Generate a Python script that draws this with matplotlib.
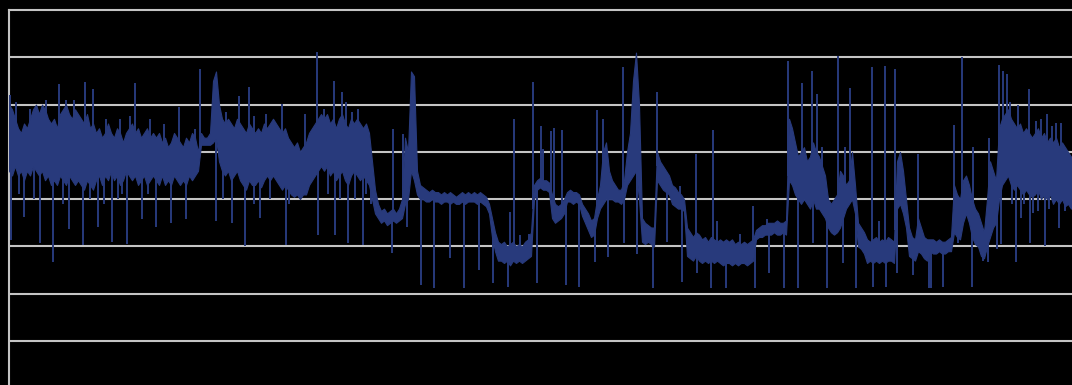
import numpy as np
import matplotlib
matplotlib.use("Agg")
import matplotlib.pyplot as plt

# Dense part of the trace: upper and lower edge of the band, one pair every 3 time steps
band_hi = [
    50, 49, 47, 45, 44, 46, 45, 47, 49, 50, 48, 50, 49, 47, 46, 47, 45, 48, 49, 50,
    48, 47, 49, 48, 47, 46, 48, 45, 46, 44, 45, 43, 44, 46, 44, 43, 45, 44, 42, 44,
    45, 46, 44, 45, 43, 44, 45, 43, 44,
    43, 44, 42, 43, 41, 42, 44, 43, 42, 41, 43, 42, 44, 43,
    40, 44, 43, 43, 44, 55, 57,
    50, 47, 46, 47, 46, 45, 47, 46, 45, 44, 46, 45, 44, 45, 44, 46, 45, 46, 47, 46,
    45, 44, 45, 43,
    42, 41, 42, 40, 41, 42, 44,
    45, 46, 47, 48, 47, 48, 46, 47, 45, 47, 48, 46, 45, 47, 46, 47, 46, 45, 46, 44, 38,
    32, 29,
    27.5, 28, 27, 27.5, 28, 27, 28,
    30, 43, 40, 57, 56, 36,
    33, 32.5, 32, 31.5, 32, 31.5, 31.5, 31, 31.5, 31, 31.5, 31, 30.5, 31, 31.5, 31,
    31.5, 31, 31.5, 31, 31.5, 31, 30.5, 29,
    26, 23, 21,
    20.5, 21, 20, 20.5, 21, 20, 20.5, 20, 21, 21.5, 23,
    33, 34, 34.5, 34, 34, 33.5,
    31, 29, 28.5, 29, 30,
    31.5, 32, 31.5, 31.5, 31,
    29, 28, 27, 25.5, 26,
    30, 33, 40, 42, 36,
    34, 33, 32,
    32, 34, 40, 44, 55, 61, 50,
    26, 25, 24.5, 24, 24,
    40, 38, 37, 36, 35,
    33, 32.5, 31.5, 31, 30,
    24, 23, 22, 23, 22.5, 21.5, 22, 21, 22, 21.5, 21, 21.5, 21, 21.5, 21, 21.5,
    20.5, 21, 20.5, 21, 20.5, 21, 21.5,
    23.5, 24, 24.5, 24.5, 25, 25, 25, 25.5, 25, 25, 25.5,
    47, 45, 42, 39,
    40, 41, 38, 39, 42,
    40, 39, 37, 35,
    30, 29, 30, 31,
    36, 35, 33, 34,
    40, 33,
    25, 24, 23,
    21.5, 21, 21.5, 22, 21, 21.5, 21, 22, 21.5, 21,
    38, 40, 36, 30,
    24, 22, 21.5, 26, 24, 22, 21.5,
    21.5, 21.5, 21, 21.5, 21, 21, 21.5, 22,
    33, 31, 30, 34, 35, 33,
    30, 28, 27, 25, 23,
    30, 38, 36, 34, 45,
    47, 48, 49, 47, 46, 45, 46, 44, 45, 44, 43, 44, 45, 43, 44, 42, 43, 42, 43, 41,
    42, 41, 40, 39,
]
band_lo = [
    36, 35, 37, 35, 36, 34, 36, 35, 37, 36, 35, 36, 34, 35, 33, 34, 33, 35, 34, 33,
    35, 34, 33, 34, 33, 32, 34, 33, 32, 34, 35, 33, 35, 34, 36, 34, 35, 33, 34, 36,
    35, 34, 35, 33, 34, 35, 33, 34, 35,
    34, 33, 35, 33, 34, 33, 35, 34, 33, 34, 33, 35, 34, 35,
    36, 41.5, 41.5, 41.5, 41.5, 42, 43,
    38, 36, 35, 36, 34, 35, 36, 34, 33, 32, 34, 33, 33, 34, 32.5, 34, 35, 34, 35, 34,
    33, 32, 33, 32,
    31, 30.5, 31, 30, 31, 31, 33,
    34, 35, 36, 37, 36, 37, 35, 36, 34, 35, 36, 34, 33, 35, 36, 35, 34, 35, 34, 33, 30,
    27, 26,
    25, 25.5, 24.5, 25, 25.5, 25, 25.5,
    26, 29, 30, 36, 34, 31,
    30, 30, 29.5, 29.5, 30, 29.5, 29.5, 29, 29.5, 29.5, 29, 29.5, 29, 29, 29.5, 29,
    29.5, 29.5, 29.5, 29, 29.5, 29, 28.5, 27,
    22, 19, 17,
    17, 16.5, 17, 16, 17, 16.5, 17, 16.5, 17, 17.5, 18,
    30, 32, 32.5, 32, 32, 31.5,
    26, 25, 25.5, 26, 27,
    29.5, 29.5, 29, 29.5, 29,
    26.5, 25, 23.5, 22, 22.5,
    26, 28, 29, 30, 30,
    30, 29.5, 29.5,
    29, 30, 33, 34, 35, 36, 30,
    21, 20.5, 21, 20.5, 20,
    34, 33, 32, 31.5, 31,
    29, 28.5, 28, 28, 27.5,
    18, 17.5, 17, 18, 17, 16.5, 17, 16.5, 17, 16.5, 17, 16.5, 16, 16.5, 16.5, 16,
    16.5, 16, 16.5, 16.5, 16, 16.5, 17,
    21.5, 22, 22, 22.5, 22.5, 22.5, 23, 22.5, 22.5, 23, 22.5,
    34, 33, 31, 30,
    29, 30, 29, 28, 30,
    28, 28, 27, 26,
    24, 23, 22.5, 23,
    24, 26, 28, 29,
    30, 27,
    20, 19.5, 18.5,
    16.5, 17, 16.5, 17, 16.5, 17, 16.5, 17, 17, 16.5,
    28, 29, 27, 24,
    18, 17.5, 17, 19, 18.5, 17.5, 17,
    19, 18.5, 18.5, 19, 18.5, 18.5, 19, 19,
    23, 22, 21.5, 25, 27, 25,
    22, 20.5, 20, 18, 17.5,
    20, 22, 24, 25, 30,
    33, 34, 35, 33, 32, 33, 32, 31, 32, 31, 30.5, 31, 32, 30, 31, 30, 31, 29, 30, 29,
    30, 28.5, 29, 28,
]

# Single-sample excursions: time step and reading
spike_t = [
    1, 2, 15, 31, 44, 50, 60, 74, 76, 84, 89, 103, 118, 126, 133,
    7, 10, 21, 25, 37, 54, 57, 65, 81, 95, 97, 109, 111, 113, 121, 139, 141,
    147, 155, 162, 170, 177, 186, 191, 207,
    214, 217, 223, 230, 236, 240, 245, 251, 245, 257, 261, 273, 277, 280, 296,
    308, 309, 325, 326, 333, 337, 339, 354, 362, 315, 343, 349, 319, 331, 346, 357,
    383, 384, 394, 398,
    412, 425, 441, 455, 470, 484,
    499, 501, 505, 511, 520, 524, 528,
    532, 534, 542, 545, 553, 557, 570,
    586, 588, 594, 599,
    614, 615, 628, 644, 648, 658, 671, 673, 687, 688,
    702, 704, 708, 717, 731, 744, 746, 758, 760, 775,
    779, 789, 793, 803, 804, 808, 813, 818, 829, 834, 836, 841, 847,
    863, 864, 870, 876, 877, 886, 888, 904, 909, 920, 922, 934,
    945, 949, 953, 963, 964, 974, 979, 980, 988, 990, 992, 994, 998, 1001, 1007,
    1009, 1015, 1020, 1021, 1036, 1038, 1050, 1052,
    1027, 1032, 1043, 1047, 1024, 1056, 1012, 1003, 1029, 1040,
]
spike_v = [
    52, 21.4, 26.3, 20.8, 16.8, 54.4, 23.6, 20.4, 54.8, 53.3, 24.2, 21, 20.6, 54.6, 25.7,
    50.5, 31, 49, 30, 51, 29, 51, 51, 30, 29, 47, 30, 47, 31, 47.5, 31, 47,
    24.2, 45.9, 25, 49.5, 25.7, 44.8, 57.5, 25.3,
    30, 48.5, 25, 51.8, 20, 53.7, 29, 26, 47.5, 48, 30, 50.1, 20.4, 28.9, 48,
    61.1, 22.5, 55, 22.5, 52.6, 50.5, 20.8, 20.4, 28.9, 49, 48.5, 49, 31, 30, 30, 31,
    18.7, 44.8, 43.7, 24.2,
    11.9, 11.3, 17.6, 11.3, 15, 12.3,
    11.5, 27.2, 47, 22.5, 22.6, 54.8, 12.3,
    45.4, 40.6, 44.4, 45, 44.6, 11.9, 11.5,
    16.8, 48.8, 47, 17.8,
    58, 20.8, 18.3, 11.3, 52.7, 21, 32.7, 12.5, 39.5, 14.4,
    11.3, 44.6, 25.3, 11.3, 22.6, 28.5, 11.3, 25.7, 14.4, 11.3,
    59.2, 11.3, 54.6, 57, 20.8, 52.2, 41, 11.3, 60.3, 16.6, 41, 53.5, 11.3,
    58, 11.5, 25.3, 58.2, 11.5, 57.5, 14.4, 14, 39.5, 11.3, 11.3, 11.5,
    45.6, 20.8, 60, 11.5, 41, 17, 16.8, 43, 19.5, 58.4, 20.5, 57, 56.5, 50.5, 16.8,
    50, 28.9, 53.3, 20.8, 20, 48, 24, 46,
    46.5, 47, 45.5, 46, 27, 27.5, 26, 29, 27.5, 28,
]
grid_levels = [0, 10, 20, 30, 40, 50, 60]

W, H = 1072, 385
TRACE = "#283a7c"
GRID = "#c4c4c4"

fig = plt.figure(figsize=(W / 100, H / 100), dpi=100, facecolor="black")
ax = fig.add_axes([9 / W, 0, 1 - 9 / W, 1 - 10 / H], facecolor="black")

hi = np.asarray(band_hi, dtype=float)
lo = np.asarray(band_lo, dtype=float)
t_band = np.arange(len(hi)) * 3

# body of the trace
ax.fill_between(t_band, lo, hi, color=TRACE, lw=0.8, edgecolor=TRACE, zorder=3)

# excursions start from the middle of the band at that moment
st = np.asarray(spike_t, dtype=float)
sv = np.asarray(spike_v, dtype=float)
base = np.interp(st, t_band, (hi + lo) / 2)
ax.vlines(st, base, sv, color=TRACE, lw=1.4, zorder=3)

ax.set_xlim(0, 1063)
ax.set_ylim(-9.3, 70)
ax.set_yticks(grid_levels)
ax.set_xticks([])
ax.grid(axis="y", color=GRID, lw=1.5, zorder=1)
ax.tick_params(left=False, labelleft=False, bottom=False, labelbottom=False)

for side in ("right", "bottom"):
    ax.spines[side].set_visible(False)
for side in ("left", "top"):
    ax.spines[side].set_color(GRID)
    ax.spines[side].set_linewidth(1.5)

fig.savefig("out.png", dpi=100, facecolor="black")
